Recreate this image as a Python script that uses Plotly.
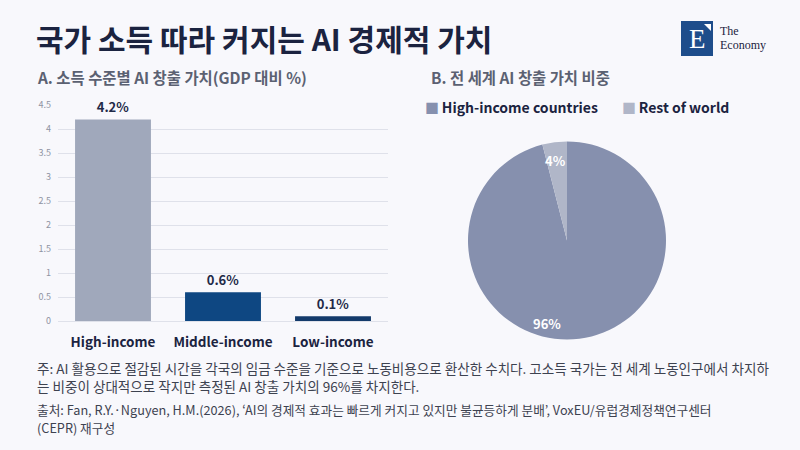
import plotly.graph_objects as go

# ---- data ----
bar_categories = ["High-income", "Middle-income", "Low-income"]
bar_values = [4.2, 0.6, 0.1]
bar_labels = ["4.2%", "0.6%", "0.1%"]
bar_colors = ["#a0a8bb", "#0e4782", "#133a6b"]

pie_labels = ["High-income countries", "Rest of world"]
pie_values = [96, 4]
pie_text = ["96%", "4%"]
pie_colors = ["#8690ae", "#b0b6c8"]

y_ticks = [0, 0.5, 1, 1.5, 2, 2.5, 3, 3.5, 4, 4.5]
y_tick_text = ["0", "0.5", "1", "1.5", "2", "2.5", "3", "3.5", "4", "4.5"]

W, H = 800, 450
KR = "Noto Sans CJK KR"
BG = "#f8f8fc"
DARK = "#1b2340"

def px(x):
    return x / W

def py(y):
    return 1 - y / H

fig = go.Figure()

fig.add_trace(go.Bar(
    x=bar_categories, y=bar_values,
    marker=dict(color=bar_colors, line=dict(width=0)),
    text=[f"<b>{t}</b>" for t in bar_labels],
    textposition="outside",
    textfont=dict(family=KR, size=13, color="#1f2a48"),
    cliponaxis=False,
    width=0.69,
    showlegend=False,
    xaxis="x", yaxis="y",
))

fig.add_trace(go.Pie(
    labels=pie_labels, values=pie_values,
    marker=dict(colors=pie_colors, line=dict(width=0)),
    sort=False, direction="clockwise", rotation=0,
    textinfo="none",
    domain=dict(x=[px(468), px(666)], y=[py(339.5), py(141.5)]),
    showlegend=False,
    hoverinfo="label+percent",
))

fig.update_layout(
    width=W, height=H,
    margin=dict(l=0, r=0, t=0, b=0, autoexpand=False),
    paper_bgcolor=BG, plot_bgcolor=BG,
    font=dict(family=KR, color=DARK),
    xaxis=dict(domain=[px(58), px(388)], showgrid=False, showline=False, zeroline=False,
               ticks="", tickfont=dict(family=KR, size=13.5, color=DARK),
               tickvals=bar_categories,
               ticktext=[f"<b>{c}</b>" for c in bar_categories],
               ticklabelstandoff=11, automargin=False,
               fixedrange=True),
    yaxis=dict(domain=[py(321), py(105)], range=[0, 4.5],
               tickvals=y_ticks, ticktext=y_tick_text,
               tickfont=dict(family=KR, size=9, color="#8f94a3"),
               showgrid=True, gridcolor="#dfe1ea", gridwidth=1,
               zeroline=True, zerolinecolor="#dfe1ea", zerolinewidth=1,
               showline=False, ticks="", ticklabelstandoff=6, automargin=False,
               fixedrange=True),
    showlegend=False,
)

annotations = [
    dict(text="<b>국가 소득 따라 커지는 AI 경제적 가치</b>", x=px(34), y=py(38),
         font=dict(family=KR, size=30, color=DARK)),
    dict(text="<b>A. 소득 수준별 AI 창출 가치(GDP 대비 %)</b>", x=px(35), y=py(77),
         font=dict(family=KR, size=15.4, color="#5b6172")),
    dict(text="<b>B. 전 세계 AI 창출 가치 비중</b>", x=px(429), y=py(77),
         font=dict(family=KR, size=15.4, color="#5b6172")),
    dict(text="주: AI 활용으로 절감된 시간을 각국의 임금 수준을 기준으로 노동비용으로 환산한 수치다. 고소득 국가는 전 세계 노동인구에서 차지하",
         x=px(35), y=py(368), font=dict(family=KR, size=13.55, color="#3d4250")),
    dict(text="는 비중이 상대적으로 작지만 측정된 AI 창출 가치의 96%를 차지한다.",
         x=px(35), y=py(386), font=dict(family=KR, size=13.55, color="#3d4250")),
    dict(text="출처: Fan, R.Y.·Nguyen, H.M.(2026), ‘AI의 경제적 효과는 빠르게 커지고 있지만 불균등하게 분배’, VoxEU/유럽경제정책연구센터",
         x=px(35), y=py(409), font=dict(family=KR, size=12.7, color="#3d4250")),
    dict(text="(CEPR) 재구성",
         x=px(35), y=py(427), font=dict(family=KR, size=12.7, color="#3d4250")),
    # logo text
    dict(text="E", x=px(697), y=py(39), xanchor="center",
         font=dict(family="Liberation Serif", size=27, color="#ffffff")),
    dict(text="The", x=px(718), y=py(31),
         font=dict(family="Liberation Serif", size=12, color="#1b2340")),
    dict(text="Economy", x=px(718), y=py(45),
         font=dict(family="Liberation Serif", size=12, color="#1b2340")),
    # custom legend for the pie
    dict(text=f"<span style='color:{pie_colors[0]}'>■</span><b>\u2009{pie_labels[0]}</b>",
         x=px(423), y=py(107), font=dict(family=KR, size=14, color=DARK)),
    dict(text=f"<span style='color:{pie_colors[1]}'>■</span><b>\u2009{pie_labels[1]}</b>",
         x=px(620), y=py(107), font=dict(family=KR, size=14, color=DARK)),
    # pie percentage labels
    dict(text=f"<b>{pie_text[1]}</b>", x=px(555), y=py(160), xanchor="center",
         font=dict(family=KR, size=13, color="#ffffff")),
    dict(text=f"<b>{pie_text[0]}</b>", x=px(547), y=py(323), xanchor="center",
         font=dict(family=KR, size=13, color="#ffffff")),
]
for a in annotations:
    a.setdefault("xanchor", "left")
    a["xref"] = "paper"; a["yref"] = "paper"; a["yanchor"] = "middle"; a["showarrow"] = False
fig.update_layout(annotations=annotations)

fig.add_shape(type="rect", xref="paper", yref="paper",
              x0=px(681), x1=px(713), y0=py(56), y1=py(21),
              fillcolor="#1e4d8b", line=dict(width=0), layer="below")
fig.add_shape(type="path", xref="paper", yref="paper",
              path=f"M {px(704)} {py(24)} L {px(711)} {py(24)} L {px(711)} {py(31)} Z",
              fillcolor="#ffffff", line=dict(width=0))

fig.write_html("out.html",
               config={"displayModeBar": False},
               post_script="document.body.style.margin='0';document.body.style.padding='0';document.documentElement.style.overflow='hidden';")
